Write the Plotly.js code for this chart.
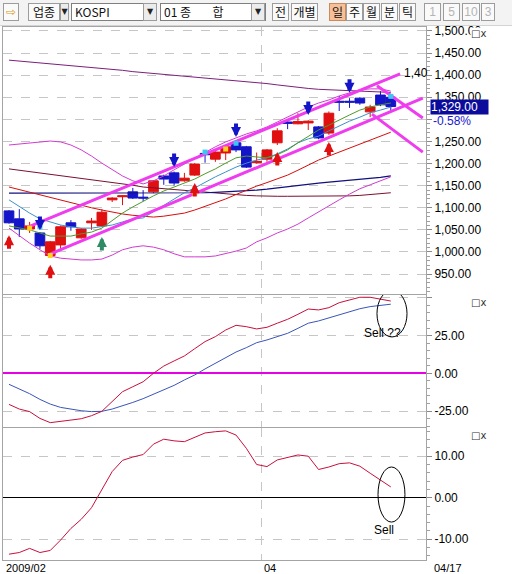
<!DOCTYPE html>
<html>
<head>
<meta charset="utf-8">
<script src="https://cdn.plot.ly/plotly-3.0.1.min.js"></script>
<style>
  html,body{margin:0;padding:0;background:#fff;}
  body{width:512px;height:574px;overflow:hidden;position:relative;}
  #chart{position:absolute;left:0;top:0;width:512px;height:574px;}
  #bar{position:absolute;left:0;top:0;width:512px;height:25px;background:#f3f3f3;border-bottom:1px solid #d4d4d4;z-index:5;}
  .b{position:absolute;top:3px;height:18px;box-sizing:border-box;border:1px solid #9c9c9c;background:#fafafa;
     font:12px "Noto Sans CJK KR",sans-serif;line-height:16px;text-align:center;color:#111;overflow:hidden;white-space:nowrap;}
  .f{position:absolute;top:3px;height:18px;box-sizing:border-box;border:1px solid #7f7f7f;background:#fff;
     font:12px "Noto Sans CJK KR",sans-serif;line-height:16px;padding-left:3px;color:#111;white-space:pre;}
  .dd{font:8px "DejaVu Sans",sans-serif;line-height:16px;color:#222;background:#ececec;}
  .on{background:#f7bf98;border-color:#c98a5e;}
  .g{color:#b4b4b4;font-family:"Liberation Sans",Arial,sans-serif;}
</style>
</head>
<body>
<div id="bar">
  <div class="b" style="left:3px;width:16px;color:#d89a20;font-family:'DejaVu Sans';font-size:12px;">⇨</div>
  <div class="b" style="left:28px;width:32px;">업종</div>
  <div class="b dd" style="left:60px;width:9px;">▼</div>
  <div class="f" style="left:71px;width:86px;">KOSPI</div>
  <div class="b dd" style="left:143px;width:14px;">▼</div>
  <div class="f" style="left:160px;width:106px;">01 종        합</div>
  <div class="b dd" style="left:251px;width:14px;">▼</div>
  <div class="b" style="left:272px;width:17px;">전</div>
  <div class="b" style="left:291px;width:27px;">개별</div>
  <div class="b on" style="left:329px;width:17px;">일</div>
  <div class="b" style="left:346px;width:17px;">주</div>
  <div class="b" style="left:363px;width:17px;">월</div>
  <div class="b" style="left:381px;width:17px;">분</div>
  <div class="b" style="left:399px;width:17px;">틱</div>
  <div class="b g" style="left:424px;width:17px;">1</div>
  <div class="b g" style="left:443px;width:17px;">5</div>
  <div class="b g" style="left:462px;width:18px;">10</div>
  <div class="b g" style="left:481px;width:14px;">3</div>
</div>
<div id="chart"></div>
<script>
// ---------------- DATA ----------------
const dates = [
  '2009/02/25','2009/02/26','2009/02/27',
  '2009/03/02','2009/03/03','2009/03/04','2009/03/05','2009/03/06',
  '2009/03/09','2009/03/10','2009/03/11','2009/03/12','2009/03/13',
  '2009/03/16','2009/03/17','2009/03/18','2009/03/19','2009/03/20',
  '2009/03/23','2009/03/24','2009/03/25','2009/03/26','2009/03/27',
  '2009/03/30','2009/03/31',
  '2009/04/01','2009/04/02','2009/04/03',
  '2009/04/06','2009/04/07','2009/04/08','2009/04/09','2009/04/10',
  '2009/04/13','2009/04/14','2009/04/15','2009/04/16','2009/04/17'
];
const open  = [1093,1075,1052,1043,992,1016,1066,1032,1066,1059,1118,1125,1136,1124,1136,1172,1179,1161,1174,1223,1210,1224,1247,1238,1202,1210,1247,1294,1290,1292,1283,1269,1341,1341,1348,1317,1355,1350];
const high  = [1095,1097,1068,1045,1025,1060,1072,1054,1077,1097,1124,1128,1145,1140,1163,1175,1182,1179,1201,1227,1228,1240,1250,1240,1225,1233,1280,1300,1314,1298,1285,1318,1353,1348,1350,1333,1364,1352];
const low   = [1064,1034,1043,1007,990,1005,1048,1030,1050,1057,1113,1106,1120,1115,1133,1152,1150,1159,1172,1202,1204,1208,1226,1190,1200,1204,1242,1278,1289,1276,1255,1265,1319,1326,1333,1305,1330,1317];
const close = [1066,1052,1059,1014,1023,1057,1057,1052,1070,1090,1122,1127,1122,1122,1161,1165,1156,1167,1199,1220,1226,1238,1231,1192,1205,1231,1274,1291,1295,1296,1258,1314,1339,1339,1337,1328,1333,1329];

const ma5    = [1059,1054,1050,1043,1036,1036,1036,1041,1045,1054,1072,1088,1102,1115,1127,1138,1147,1156,1165,1177,1188,1201,1213,1217,1215,1213,1220,1231,1247,1262,1276,1287,1299,1310,1321,1328,1333,1337];
const ma10   = [1118,1102,1088,1075,1068,1061,1057,1054,1054,1057,1061,1068,1075,1077,1091,1106,1120,1134,1145,1158,1170,1181,1192,1201,1208,1213,1222,1233,1247,1256,1262,1274,1285,1296,1305,1315,1321,1328];
const ma20   = [1147,1141,1135,1129,1123,1117,1111,1105,1100,1095,1090,1086,1083,1081,1079,1081,1084,1088,1095,1103,1111,1120,1130,1140,1149,1157,1166,1174,1185,1196,1208,1217,1226,1235,1244,1253,1262,1271];
const bbUpper= [1242,1244,1247,1249,1251,1249,1242,1231,1217,1201,1186,1172,1161,1154,1161,1172,1186,1199,1213,1226,1238,1249,1258,1267,1274,1283,1294,1305,1317,1328,1337,1344,1353,1360,1367,1369,1369,1364];
const bbLower= [1054,1036,1020,1005,991,986,984,982,982,984,993,1005,1011,1014,1011,1005,996,989,989,989,991,996,1002,1009,1023,1032,1043,1052,1063,1077,1091,1104,1118,1131,1143,1152,1161,1170];
const ma60   = [1188,1185,1182,1179,1176,1173,1170,1167,1164,1161,1158,1155,1151,1147,1145,1143,1141,1139,1137,1135,1133,1131,1129,1128,1127,1126,1126,1126,1126,1126,1126,1127,1127,1127,1128,1130,1132,1134];
const ma100  = [1133,1133,1133,1133,1133,1133,1133,1133,1133,1133,1133,1133,1133,1133,1133,1133,1133,1133,1133,1134,1135,1136,1137,1138,1140,1142,1145,1148,1151,1154,1156,1158,1160,1162,1164,1166,1169,1172];
const ma120  = [1434,1432,1430,1428,1426,1423,1421,1419,1417,1415,1413,1411,1408,1406,1404,1402,1400,1398,1396,1394,1391,1389,1387,1385,1383,1381,1378,1375,1372,1370,1368,1367,1366,1365,1364,1363,1362,1361];

// drawn trend / channel lines (bar index, price)
const channelTopIdx   = [2, 37.9];   const channelTopPrice   = [1058, 1403];
const channelBotIdx   = [3.97, 40.1]; const channelBotPrice   = [995, 1348];
const breakLine1Idx   = [35.66, 40.1]; const breakLine1Price  = [1376, 1303];
const breakLine2Idx   = [35.17, 40.1]; const breakLine2Price  = [1312, 1226];

// signals (bar index, arrow tip price)
const buySignalIdx    = [0, 4, 18, 26, 31];
const buySignalPrice  = [1038, 971, 1156, 1226, 1249];
const greenSignalIdx  = [9];
const greenSignalPrice= [1034];
const sellSignalIdx   = [3, 16, 22, 29, 33];
const sellSignalPrice = [1050, 1192, 1260, 1310, 1360];
const yellowMarkIdx   = [2, 4, 18, 21, 26];
const yellowMarkPrice = [1054, 992, 1133, 1233, 1207];
const cyanMarkIdx     = [3, 19, 22, 37];
const cyanMarkPrice   = [1057, 1226, 1246, 1352];

// lower panels
const macd   = [-20.6,-23.7,-25.4,-29.9,-32.7,-31.6,-31.0,-30.1,-28.1,-25.2,-18.8,-12.2,-8.9,-5.6,0.0,4.8,8.2,11.5,16.3,21.0,24.3,28.7,31.8,30.9,29.4,30.5,33.2,35.8,39.1,42.6,42.0,43.5,46.8,48.6,50.4,50.4,49.3,47.9];
const signal = [-7.3,-10.4,-13.5,-17.3,-20.4,-22.6,-23.9,-24.8,-25.4,-25.2,-23.7,-21.7,-19.3,-16.8,-14.0,-10.9,-8.0,-4.4,-1.1,2.9,6.6,10.6,14.1,17.0,20.3,22.1,24.3,26.5,29.8,33.2,34.7,36.7,38.9,41.1,42.8,44.2,45.1,45.8];
const osc    = [-13.6,-13.2,-12.2,-13.2,-12.7,-10.2,-7.4,-5.2,-2.4,1.9,6.3,9.0,9.8,10.4,12.9,14.1,13.7,13.5,14.5,15.6,15.9,16.1,15.1,11.9,8.0,7.5,9.1,9.7,10.3,10.0,6.8,7.4,8.2,8.4,7.6,5.9,4.3,2.6];

const priceTicks = [950,1000,1050,1100,1150,1200,1250,1300,1350,1400,1450,1500];
const priceTickText = ['950.00','1,000.00','1,050.00','1,100.00','1,150.00','1,200.00','1,250.00','','1,350.00','1,400.00','1,450.00','1,500.00'];
const macdTicks  = [-25, 0, 25, 50];
const macdTickText = ['-25.00','0.00','25.00',''];
const oscTicks   = [-10, 0, 10];
const oscTickText= ['-10.00','0.00','10.00'];
const changeText = '-0.58%';

// ---------------- BUILD ----------------
const idx = dates.map((d, i) => i);
const last = dates.length - 1;
const monthStart = dates.findIndex(d => d.startsWith('2009/04'));
const monthBoundary = monthStart - 0.5;
const XR = [-0.58, 40.41];

function ln(y, color, width, xa, ya, x) {
  return {type:'scatter', mode:'lines', x: x || idx, y: y, xaxis: xa, yaxis: ya,
          line:{color: color, width: width}, hoverinfo:'skip'};
}
const traces = [
  ln(ma120, '#7b1f7b', 1, 'x', 'y'),
  ln(ma60,  '#7a1030', 1, 'x', 'y'),
  ln(ma100, '#10107e', 1.2, 'x', 'y'),
  ln(bbUpper, '#d03cd0', 1, 'x', 'y'),
  ln(bbLower, '#d03cd0', 1, 'x', 'y'),
  ln(ma20,  '#d80c0c', 1, 'x', 'y'),
  ln(ma10,  '#3a92c8', 1, 'x', 'y'),
  ln(ma5,   '#4f9a2a', 1, 'x', 'y'),
  ln(channelTopPrice, '#ee3cee', 3, 'x', 'y', channelTopIdx),
  ln(channelBotPrice, '#ee3cee', 3, 'x', 'y', channelBotIdx),
  ln(breakLine1Price, '#ee3cee', 3, 'x', 'y', breakLine1Idx),
  ln(breakLine2Price, '#ee3cee', 3, 'x', 'y', breakLine2Idx),
  {type:'candlestick', x: idx, open: open, high: high, low: low, close: close,
   xaxis:'x', yaxis:'y', whiskerwidth:0, hoverinfo:'skip',
   increasing:{line:{color:'#e01010', width:1}, fillcolor:'#e01010'},
   decreasing:{line:{color:'#1414c8', width:1}, fillcolor:'#1414c8'}},
  {type:'scatter', mode:'markers', x: yellowMarkIdx, y: yellowMarkPrice, xaxis:'x', yaxis:'y',
   marker:{symbol:'square', size:5, color:'#ffd21e'}, hoverinfo:'skip'},
  {type:'scatter', mode:'markers', x: cyanMarkIdx, y: cyanMarkPrice, xaxis:'x', yaxis:'y',
   marker:{symbol:'square', size:5, color:'#38c8f0'}, hoverinfo:'skip'},
  ln(signal, '#3a55b8', 1, 'x2', 'y2'),
  ln(macd,   '#c8103c', 1, 'x2', 'y2'),
  ln(osc,    '#c8103c', 1, 'x3', 'y3')
];

const annotations = [];
function arrow(x, y, color, up) {
  annotations.push({x: x, y: y, xref:'x', yref:'y', text:'', showarrow:true,
    arrowhead:2, arrowsize:0.5, arrowwidth:4, arrowcolor: color,
    ax:0, ay: up ? 15 : -15, standoff:0});
}
buySignalIdx.forEach((x, i) => arrow(x, buySignalPrice[i], '#e01010', true));
greenSignalIdx.forEach((x, i) => arrow(x, greenSignalPrice[i], '#2e8b66', true));
sellSignalIdx.forEach((x, i) => arrow(x, sellSignalPrice[i], '#1414c8', false));

const lblFont = {family:'"Liberation Sans", Arial, sans-serif', size:12, color:'#000'};
const dateFont = {family:'"Liberation Sans", Arial, sans-serif', size:11, color:'#000'};
annotations.push(
  {x: channelTopIdx[1] + 0.2, y: channelTopPrice[1] + 2, xref:'x', yref:'y', text:'1,40',
   showarrow:false, xanchor:'left', yanchor:'middle', font: lblFont},
  {x: 1, xref:'paper', xshift:4, y: close[last], yref:'y', xanchor:'left', yanchor:'middle',
   text: close[last].toLocaleString('en-US', {minimumFractionDigits:2, maximumFractionDigits:2}),
   showarrow:false, bgcolor:'#0c0c9c', borderpad:0, width:57, align:'left',
   font:{family:lblFont.family, size:12, color:'#fff'}},
  {x: 1, xref:'paper', xshift:5, y: close[last], yref:'y', yshift:-14, xanchor:'left', yanchor:'middle',
   text: changeText, showarrow:false, font:{family:lblFont.family, size:12, color:'#1818d0'}},
  {x: 36.24, y: 26.7, xref:'x2', yref:'y2', text:'Sell ??', showarrow:false, font: lblFont},
  {x: 36.34, y: -7.8, xref:'x3', yref:'y3', text:'Sell', showarrow:false, font: lblFont},
  {x: XR[0] + 0.1, y: 0, xref:'x3', yref:'paper', yanchor:'top', xanchor:'left', yshift:0,
   text: dates[0].slice(0, 7), showarrow:false, font: dateFont},
  {x: monthBoundary, y: 0, xref:'x3', yref:'paper', yanchor:'top', xanchor:'left', yshift:0,
   text: dates[monthStart].slice(5, 7), showarrow:false, font: dateFont},
  {x: 1, xref:'paper', xshift:6, y: 0, yref:'paper', yanchor:'top', xanchor:'left', yshift:0,
   text: dates[last].slice(5), showarrow:false, font: dateFont}
);
[['y domain', 0], ['y2 domain', -1], ['y3 domain', -1]].forEach(r => {
  annotations.push({x: 1, xref:'paper', xshift:44, y: 1, yref: r[0], yanchor:'top', xanchor:'left', yshift:r[1],
    text:'□x', showarrow:false, bgcolor:'#fff', borderpad:0,
    font:{family:'"DejaVu Sans", sans-serif', size:10, color:'#333'}});
});

const gridC = '#c6c6c6';
function xax(anchor) {
  return {domain:[0,1], anchor: anchor, range: XR, fixedrange:true, rangeslider:{visible:false},
    tickmode:'array', tickvals:[monthBoundary], showticklabels:false, ticks:'',
    showgrid:true, gridcolor: gridC, griddash:'dash', gridwidth:1, zeroline:false,
    showline:true, mirror:true, linecolor:'#a4a4a4', linewidth:1};
}
function yax(anchor, domain, range, extra) {
  return Object.assign({domain: domain, anchor: anchor, side:'right', range: range, fixedrange:true,
    ticks:'outside', ticklen:5, tickcolor:'#8a8a8a', tickfont: lblFont,
    showgrid:true, gridcolor: gridC, griddash:'dash', gridwidth:1, zeroline:false,
    showline:true, mirror:true, linecolor:'#a4a4a4', linewidth:1}, extra);
}

const layout = {
  width:512, height:574,
  margin:{l:3, r:86, t:27, b:14},
  paper_bgcolor:'#ffffff', plot_bgcolor:'#ffffff',
  showlegend:false, hovermode:false, dragmode:false,
  font: lblFont,
  boxmode:'overlay', boxgap:0.06, boxgroupgap:0,
  xaxis:  xax('y'),
  xaxis2: xax('y2'),
  xaxis3: xax('y3'),
  yaxis:  yax('x',  [0.4991, 1], [905, 1509], {tickmode:'array', tickvals: priceTicks, ticktext: priceTickText,
            minor:{tickmode:'linear', tick0:0, dtick:10, ticks:'outside', ticklen:3, tickcolor:'#a0a0a0', showgrid:false}}),
  yaxis2: yax('x2', [0.2495, 0.4972], [-35.6, 51.9], {tickmode:'array', tickvals: macdTicks, ticktext: macdTickText,
            zeroline:true, zerolinecolor:'#e600e6', zerolinewidth:2,
            minor:{tickmode:'linear', tick0:0, dtick:5, ticks:'outside', ticklen:3, tickcolor:'#a0a0a0', showgrid:false}}),
  yaxis3: yax('x3', [0, 0.2477], [-15.0, 16.8], {tickmode:'array', tickvals: oscTicks, ticktext: oscTickText,
            zeroline:true, zerolinecolor:'#000000', zerolinewidth:1.5,
            minor:{tickmode:'linear', tick0:0, dtick:2, ticks:'outside', ticklen:3, tickcolor:'#a0a0a0', showgrid:false}}),
  shapes: [
    {type:'circle', xref:'x2', yref:'y2', x0:35.66, x1:38.57, y0:24.1, y1:55, line:{color:'#000', width:1}},
    {type:'circle', xref:'x3', yref:'y3', x0:35.76, x1:38.37, y0:-5.86, y1:7.4, line:{color:'#000', width:1}}
  ],
  annotations: annotations
};

Plotly.newPlot('chart', traces, layout, {displayModeBar:false, staticPlot:true});
</script>
</body>
</html>
